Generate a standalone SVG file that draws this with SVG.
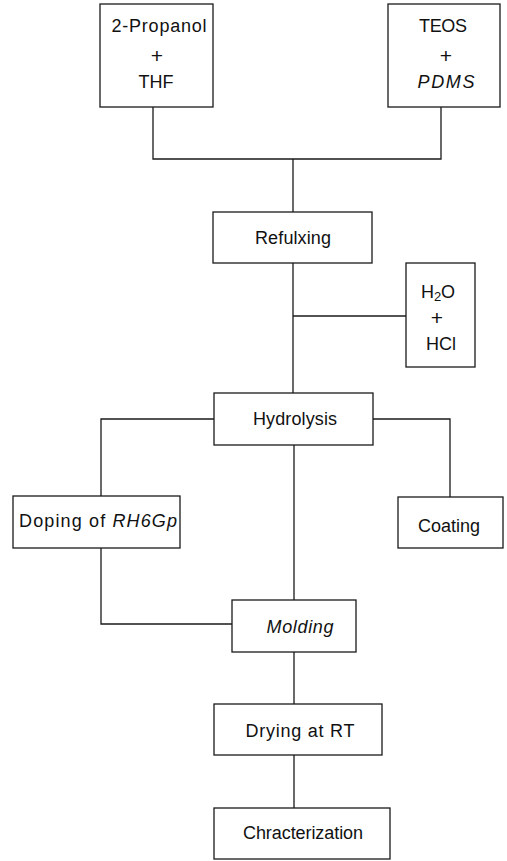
<svg xmlns="http://www.w3.org/2000/svg" width="507" height="861" viewBox="0 0 507 861">
<style>
.box{fill:#fff;stroke:#1a1a1a;stroke-width:1.3}
.ln{fill:none;stroke:#1a1a1a;stroke-width:1.3}
text{font-family:"Liberation Sans",Arial,sans-serif;font-size:18px;fill:#111;text-anchor:middle}
.it{font-style:italic}
.pl{font-size:21px}
</style>
<rect width="507" height="861" fill="#fff"/>
<g id="connectors">
<polyline class="ln" points="153,107 153,159 441,159 441,107"/>
<line class="ln" x1="293" y1="159" x2="293" y2="212"/>
<line class="ln" x1="293" y1="263" x2="293" y2="393"/>
<line class="ln" x1="293" y1="316" x2="406" y2="316"/>
<polyline class="ln" points="214,419 101,419 101,496"/>
<polyline class="ln" points="373,419 450,419 450,497"/>
<line class="ln" x1="294" y1="445" x2="294" y2="600"/>
<polyline class="ln" points="101,548 101,624 232,624"/>
<line class="ln" x1="294" y1="652" x2="294" y2="704"/>
<line class="ln" x1="294" y1="755" x2="294" y2="808"/>
</g>
<g id="propanol">
<rect class="box" x="100" y="4" width="113" height="103"/>
<text x="159" y="32" textLength="95">2-Propanol</text>
<text class="pl" x="157" y="63">+</text>
<text x="156" y="88" textLength="35">THF</text>
</g>
<g id="teos">
<rect class="box" x="388" y="4" width="112" height="103"/>
<text x="443" y="32" textLength="48">TEOS</text>
<text class="pl" x="446" y="63">+</text>
<text class="it" x="446" y="88" textLength="57">PDMS</text>
</g>
<g id="refluxing">
<rect class="box" x="213" y="212" width="159" height="51"/>
<text x="293" y="244" textLength="76">Refulxing</text>
</g>
<g id="water">
<rect class="box" x="406" y="263" width="69" height="104"/>
<text x="438" y="298">H<tspan font-size="13" dy="3">2</tspan><tspan dy="-3">O</tspan></text>
<text class="pl" x="437" y="325">+</text>
<text x="441" y="350">HCl</text>
</g>
<g id="hydrolysis">
<rect class="box" x="214" y="393" width="159" height="52"/>
<text x="295" y="425" textLength="84">Hydrolysis</text>
</g>
<g id="doping">
<rect class="box" x="13" y="496" width="167" height="52"/>
<text x="98" y="527" textLength="158">Doping of <tspan class="it">RH6Gp</tspan></text>
</g>
<g id="coating">
<rect class="box" x="398" y="497" width="105" height="51"/>
<text x="449" y="532" textLength="62">Coating</text>
</g>
<g id="molding">
<rect class="box" x="232" y="600" width="124" height="52"/>
<text class="it" x="300" y="633" textLength="67">Molding</text>
</g>
<g id="drying">
<rect class="box" x="214" y="704" width="168" height="51"/>
<text x="300" y="737" textLength="109">Drying at RT</text>
</g>
<g id="characterization">
<rect class="box" x="214" y="808" width="176" height="51"/>
<text x="303" y="839" textLength="120">Chracterization</text>
</g>
</svg>
